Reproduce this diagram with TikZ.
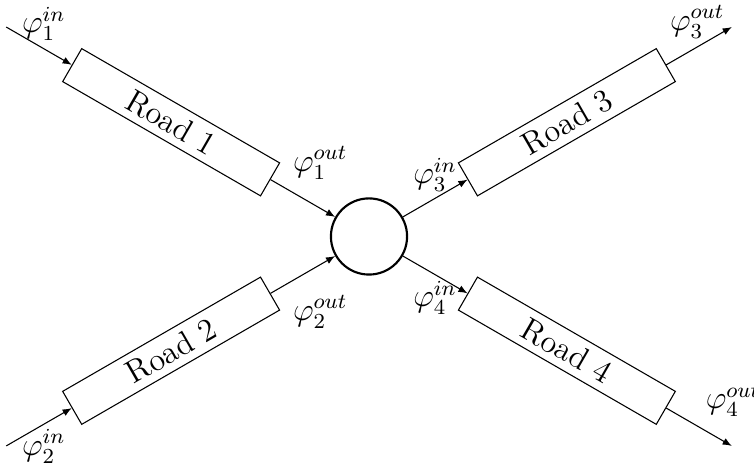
\documentclass[tikz,border=0pt]{standalone}
\usetikzlibrary{arrows.meta}
\begin{document}
\begin{tikzpicture}[
  font=\large,
  road/.style={draw, rectangle, minimum width=3cm, minimum height=0.5cm, inner sep=0pt},
  junction/.style={draw, circle, thick, minimum size=1cm, inner sep=0pt},
  flow/.style={-{Latex[length=3.4pt,width=2.7pt]}},
  lbl/.style={inner sep=0pt}
]
\useasboundingbox (-4.845,-3.118) rectangle (5.055,3.105);
\node[junction] (J) at (0,0) {};
\node[road, rotate=-30] (R1) at (150:3) {Road 1};
\node[road, rotate=30] (R2) at (210:3) {Road 2};
\node[road, rotate=30] (R3) at (30:3) {Road 3};
\node[road, rotate=-30] (R4) at (330:3) {Road 4};
\coordinate (i1) at (150:5.5);
\coordinate (i2) at (210:5.5);
\coordinate (o3) at (30:5.5);
\coordinate (o4) at (330:5.5);
\draw[flow] (i1) -- (R1.west);
\draw[flow] (R1.east) -- (J);
\draw[flow] (i2) -- (R2.west);
\draw[flow] (R2.east) -- (J);
\draw[flow] (J) -- (R3.west);
\draw[flow] (R3.east) -- (o3);
\draw[flow] (J) -- (R4.west);
\draw[flow] (R4.east) -- (o4);
\node[lbl] (l1in) at (-4.27,2.79) {$\varphi_1^{in}$};
\node[lbl] (l1out) at (-0.64,0.965) {$\varphi_1^{out}$};
\node[lbl] (l2out) at (-0.64,-0.99) {$\varphi_2^{out}$};
\node[lbl] (l2in) at (-4.27,-2.76) {$\varphi_2^{in}$};
\node[lbl] (l3in) at (0.867,0.807) {$\varphi_3^{in}$};
\node[lbl] (l4in) at (0.867,-0.807) {$\varphi_4^{in}$};
\node[lbl] (l3out) at (4.31,2.82) {$\varphi_3^{out}$};
\node[lbl] (l4out) at (4.78,-2.15) {$\varphi_4^{out}$};
\end{tikzpicture}
\end{document}
